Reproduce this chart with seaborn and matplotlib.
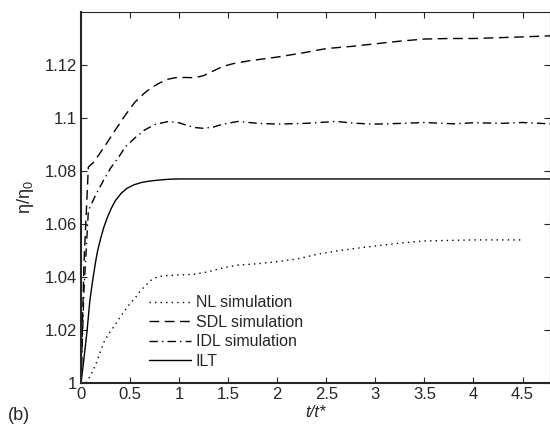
import numpy as np
import pandas as pd
import matplotlib
matplotlib.use("Agg")
import matplotlib.pyplot as plt
import seaborn as sns

# ---- data ----
t_nl = [0.05, 0.10, 0.15, 0.20, 0.24, 0.30, 0.35, 0.40, 0.45, 0.50, 0.55, 0.60, 0.65, 0.72, 0.78, 0.85,
        1.0, 1.15, 1.3, 1.45, 1.6, 1.8, 2.0, 2.2, 2.4, 2.6, 2.8, 3.0, 3.25, 3.5, 3.75, 4.0, 4.25, 4.5]
y_nl = [1.000, 1.003, 1.007, 1.012, 1.016, 1.0195, 1.022, 1.025, 1.0275, 1.030, 1.032, 1.0345, 1.0365, 1.039, 1.040, 1.0405,
        1.0408, 1.041, 1.042, 1.0435, 1.0445, 1.045, 1.0458, 1.0468, 1.0485, 1.0498, 1.0508, 1.0517, 1.0528, 1.0536, 1.0538, 1.054, 1.054, 1.054]

t_sdl = [0.0, 0.03, 0.075, 0.12, 0.18, 0.25, 0.35, 0.45, 0.55, 0.65, 0.72, 0.79, 0.87, 0.96, 1.05, 1.16, 1.25, 1.35, 1.45,
         1.55, 1.7, 2.0, 2.25, 2.5, 2.75, 3.0, 3.25, 3.5, 3.75, 4.0, 4.25, 4.5, 4.78]
y_sdl = [1.000, 1.045, 1.0815, 1.083, 1.086, 1.0898, 1.0955, 1.101, 1.106, 1.1095, 1.1115, 1.113, 1.1145, 1.1152, 1.1153, 1.1152, 1.116, 1.1178, 1.1195,
         1.1205, 1.1215, 1.123, 1.1245, 1.1262, 1.127, 1.128, 1.129, 1.1298, 1.130, 1.130, 1.1303, 1.1306, 1.131]

t_idl = [0.0, 0.03, 0.075, 0.15, 0.23, 0.30, 0.38, 0.45, 0.55, 0.65, 0.75, 0.89, 1.0, 1.08, 1.16, 1.25, 1.35, 1.45, 1.6,
         1.8, 2.0, 2.3, 2.6, 2.8, 3.0, 3.3, 3.5, 3.8, 4.0, 4.3, 4.5, 4.78]
y_idl = [1.000, 1.035, 1.065, 1.071, 1.0765, 1.081, 1.085, 1.089, 1.0925, 1.0955, 1.0975, 1.0987, 1.0982, 1.0972, 1.0964, 1.0961, 1.0966, 1.0977, 1.0987,
         1.098, 1.0977, 1.098, 1.0987, 1.098, 1.0977, 1.098, 1.0983, 1.0978, 1.0982, 1.098, 1.0983, 1.0978]

t_ilt = [0.0, 0.02, 0.04, 0.06, 0.09, 0.12, 0.15, 0.17, 0.20, 0.23, 0.27, 0.31, 0.35, 0.41, 0.47, 0.54, 0.62, 0.70, 0.80, 0.90, 1.0, 4.78]
y_ilt = [1.000, 1.006, 1.0125, 1.019, 1.031, 1.039, 1.046, 1.050, 1.0545, 1.0585, 1.0626, 1.066, 1.0688, 1.0716, 1.0735, 1.0748, 1.0757, 1.0762, 1.0766, 1.0769, 1.077, 1.077]

labels = ["NL simulation", "SDL simulation", "IDL simulation", "ILT"]
xticks = [0, 0.5, 1, 1.5, 2, 2.5, 3, 3.5, 4, 4.5]
xticklabels = ["0", "0.5", "1", "1.5", "2", "2.5", "3", "3.5", "4", "4.5"]
yticks = [1.0, 1.02, 1.04, 1.06, 1.08, 1.10, 1.12]
yticklabels = ["1", "1.02", "1.04", "1.06", "1.08", "1.1", "1.12"]

sns.set_style("ticks")
plt.rcParams['font.family'] = ['Liberation Sans', 'DejaVu Sans']
plt.rcParams['mathtext.fontset'] = 'custom'
plt.rcParams['mathtext.rm'] = 'Liberation Sans'
plt.rcParams['mathtext.it'] = 'Liberation Sans:italic'

fig = plt.figure(figsize=(5.5, 4.25), dpi=100)
ax = fig.add_axes([81/550, 42/425, 469/550, 371/425])

styles = [(0, (1, 3)), (0, (7, 4)), (0, (6, 3, 1, 3)), "-"]
series = [(t_nl, y_nl), (t_sdl, y_sdl), (t_idl, y_idl), (t_ilt, y_ilt)]
for (tt, yy), lab, ls in zip(series, labels, styles):
    df = pd.DataFrame({"t": tt, "y": yy})
    sns.lineplot(data=df, x="t", y="y", ax=ax, color="black", linewidth=1.0,
                 linestyle=ls, label=lab)

ax.set_xlim(0, 4.78)
ax.set_ylim(1.0, 1.14)
ax.set_xticks(xticks)
ax.set_xticklabels(xticklabels)
ax.set_yticks(yticks)
ax.set_yticklabels(yticklabels)
ax.tick_params(direction="in", top=True, right=True, labelsize=12, length=4, width=0.8, pad=3)
for s in ["top", "right"]:
    ax.spines[s].set_visible(True)
    ax.spines[s].set_linewidth(0.8)
for s in ["left", "bottom"]:
    ax.spines[s].set_linewidth(1.5)

ax.set_xlabel("t/t*", fontsize=12, style="italic", labelpad=2)
ax.set_ylabel(r"$\mathregular{\eta/\eta_0}$", fontsize=13, labelpad=6)

leg = ax.legend(loc="lower left", bbox_to_anchor=(62/469, 8/371), frameon=False,
                fontsize=11.5, handlelength=2.6, handletextpad=0.3, labelspacing=0.28,
                borderaxespad=0)

fig.text(19/550, 1 - 416/425, "(b)", fontsize=13, ha="center", va="center")

fig.savefig("out.png", dpi=100)
